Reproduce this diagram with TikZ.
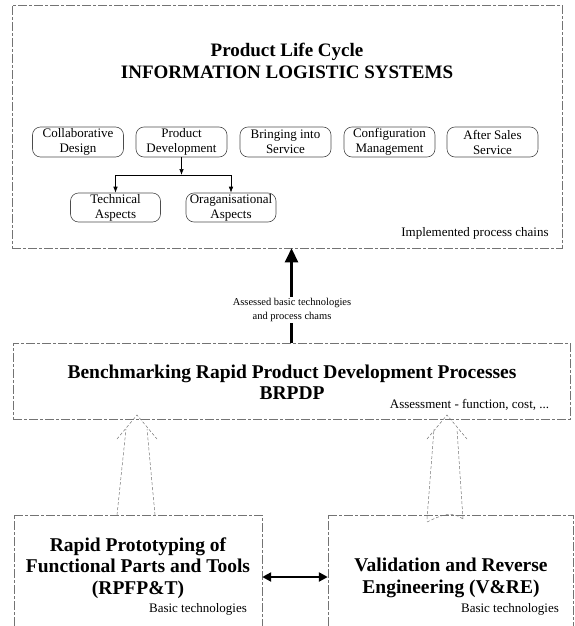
\documentclass[tikz,border=0pt]{standalone}
\usepackage{fontspec}
\setmainfont{Liberation Serif}
\usetikzlibrary{arrows.meta}

\begin{document}
\begin{tikzpicture}[x=1pt,y=-1pt,
  outer/.style={draw=black!55, line width=.6pt, dash pattern=on 9pt off 2pt on 3pt off 2pt},
  stage/.style={draw=black!70, line width=.6pt, rounded corners=8pt, minimum width=91pt, minimum height=30pt, inner sep=0pt, align=center, font=\fontsize{13}{15}\selectfont},
  big/.style={align=center, font=\fontsize{19.5}{21.5}\selectfont\bfseries},
  note/.style={font=\fontsize{13}{15}\selectfont},
  hollow/.style={draw=black!55, line width=.5pt, densely dashed},
  branch/.style={-{Latex[length=6pt,width=4.5pt]}, line width=.6pt},
  fat/.style={line width=2.6pt}]
\useasboundingbox (0,0) rectangle (574,626);
% outer boxes
\node[outer, minimum width=550pt, minimum height=243pt, inner sep=0pt] (pls) at (287,126.5) {};
\node[outer, minimum width=557pt, minimum height=76pt, inner sep=0pt] (brpdp) at (291.5,381) {};
\node[minimum width=248pt, minimum height=111pt, inner sep=0pt] (rp) at (138,570.5) {};
\node[minimum width=245pt, minimum height=111pt, inner sep=0pt] (vre) at (450.5,570.5) {};
\draw[outer] (rp.south west) |- (rp.north east) -- (rp.south east);
\draw[outer] (vre.south west) |- (vre.north east) -- (vre.south east);
% top box
\node[big, font=\fontsize{19}{22}\selectfont\bfseries] (plstitle) at (287,61) {Product Life Cycle\\INFORMATION LOGISTIC SYSTEMS};
\node[stage] (cd) at (78,142) {Collaborative\\Design};
\node[stage] (pd) at (181.5,142) {Product\\Development};
\node[stage] (bs) at (285.5,142) {Bringing into\\Service};
\node[stage] (cm) at (389.5,142) {Configuration\\Management};
\node[stage] (as) at (492.5,142) {After Sales\\Service};
\node[stage, minimum width=90pt, minimum height=29pt] (ta) at (115.5,207.5) {Technical\\Aspects};
\node[stage, minimum width=90pt, minimum height=29pt] (oa) at (231,207.5) {Oraganisational\\Aspects};
\coordinate (split) at (181.5,175);
\draw[branch] (pd) -- (split);
\draw[branch] (split) -| (ta);
\draw[branch] (split) -| (oa);
\node[note] (ipc) at (475,233) {Implemented process chains};
% middle box
\draw[fat, -{Triangle[length=14pt,width=13pt]}] (brpdp.north) -- (brpdp.north |- pls.south);
\node[fill=white, align=center, inner sep=1pt, font=\fontsize{10.5}{14}\selectfont] (abt) at (292,310) {Assessed basic technologies\\and process chams};
\node[big] (brpdptitle) at (292,382.5) {Benchmarking Rapid Product Development Processes\\BRPDP};
\node[note] (afc) at (469.5,405) {Assessment - function, cost, ...};
% hollow arrows
\draw[hollow] (117,515) -- (126,429);
\draw[hollow] (155,515) -- (147,429);
\draw[hollow] (117,439) -- (137,415) -- (157,439);
\draw[hollow] (427,519) -- (434,429);
\draw[hollow] (463,519) -- (457,429);
\draw[hollow] (427,439) -- (447,415) -- (467,439);
\draw[hollow] (427,522) .. controls (440,516) and (450,510) .. (463,519);
% bottom boxes
\node[big] (rptitle) at (138,568) {Rapid Prototyping of\\Functional Parts and Tools\\(RPFP\&T)};
\node[big] (vretitle) at (451,578) {Validation and Reverse\\Engineering (V\&RE)};
\node[note] (btl) at (198,609) {Basic technologies};
\node[note] (btr) at (510,609) {Basic technologies};
\draw[fat, {Triangle[length=9pt,width=9pt]}-{Triangle[length=9pt,width=9pt]}] ([yshift=-6.5pt]rp.east) -- ([yshift=-6.5pt]rp.east -| vre.west);
\end{tikzpicture}
\end{document}
